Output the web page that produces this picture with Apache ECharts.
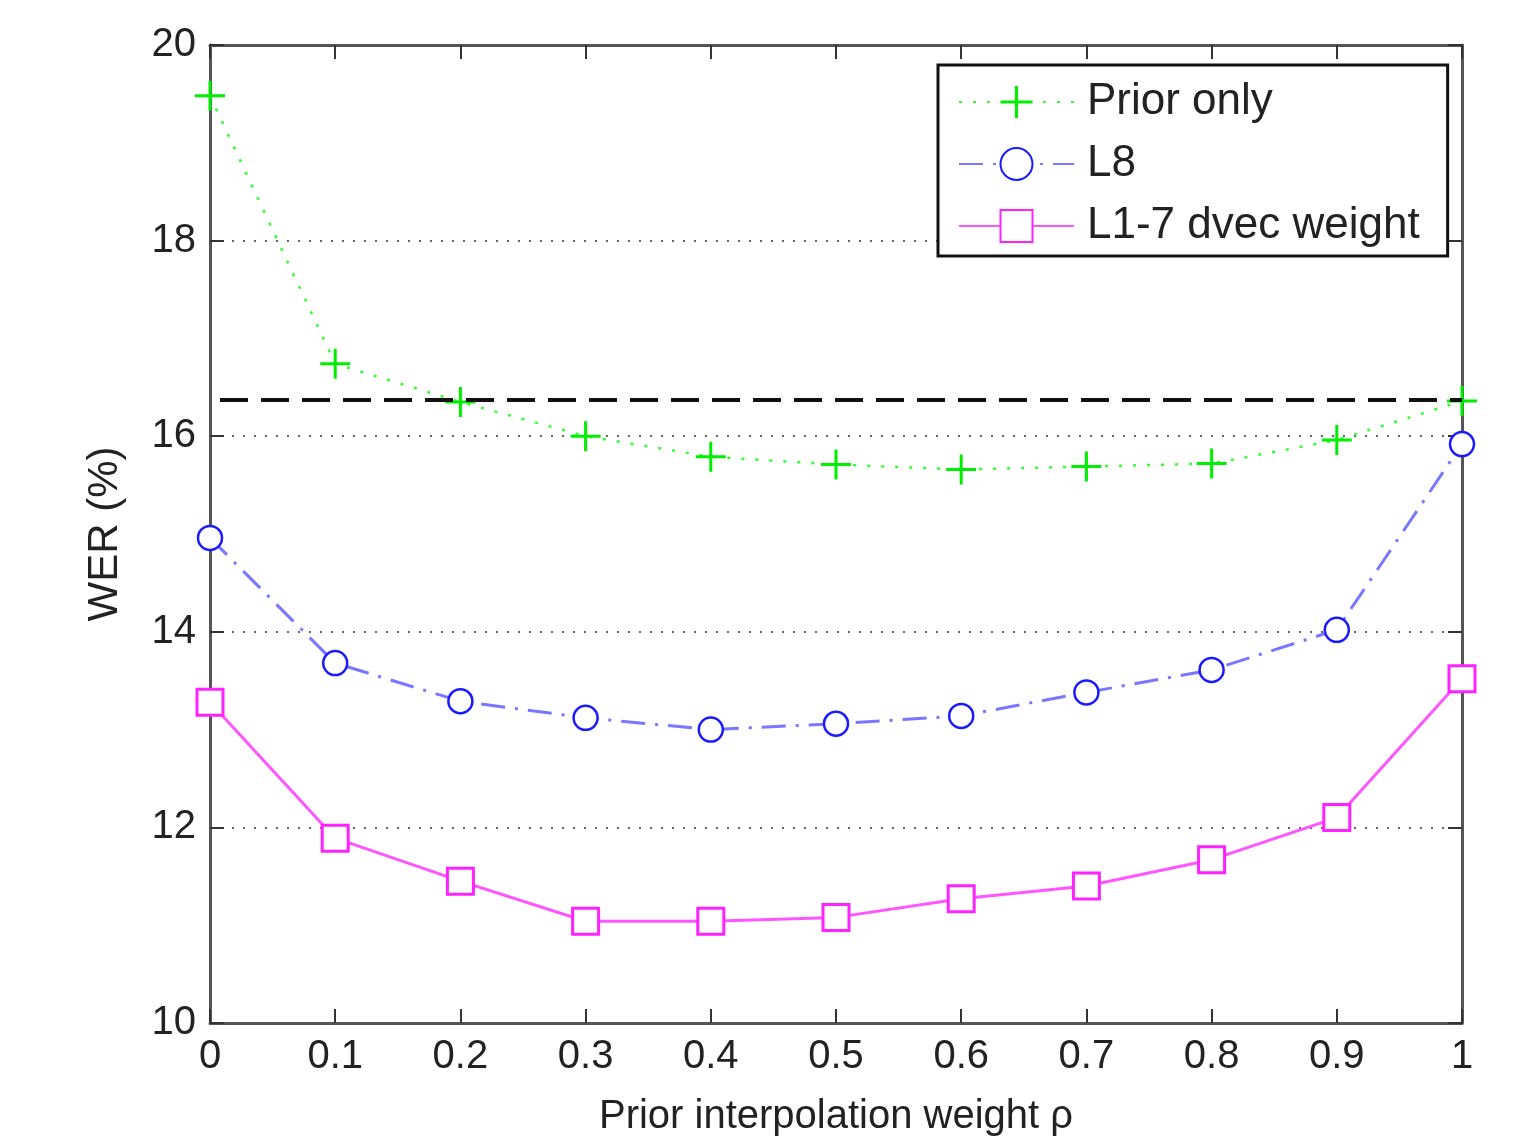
<!DOCTYPE html>
<html>
<head>
<meta charset="utf-8">
<script src="https://cdn.jsdelivr.net/npm/echarts@6/dist/echarts.min.js"></script>
<style>
  html, body { margin: 0; padding: 0; background: #fff; }
  #chart { width: 1518px; height: 1142px; }
</style>
</head>
<body>
<div id="chart"></div>
<script>
// x positions (prior interpolation weight)
const weights = [0, 0.1, 0.2, 0.3, 0.4, 0.5, 0.6, 0.7, 0.8, 0.9, 1]
// WER (%) per series
const priorOnly = [19.48, 16.74, 16.35, 16.0, 15.79, 15.71, 15.66, 15.69, 15.72, 15.96, 16.36]
const l8 = [14.96, 13.68, 13.29, 13.12, 13.0, 13.06, 13.14, 13.38, 13.61, 14.02, 15.92]
const l17 = [13.28, 11.89, 11.45, 11.04, 11.04, 11.08, 11.27, 11.4, 11.67, 12.1, 13.52]
const baseline = 16.37

const font = 'Liberation Sans, Arial, sans-serif'
const pair = (ys) => weights.map((w, i) => [w, ys[i]])

const chart = echarts.init(document.getElementById('chart'))

function tickAxis(extra) {
  return Object.assign({
    axisLine: { show: true, onZero: false, lineStyle: { color: '#555', width: 3 } },
    axisTick: { show: true, inside: true, length: 14, lineStyle: { color: '#333', width: 2 } },
    splitLine: { show: false },
  }, extra)
}

chart.setOption({
  animation: false,
  textStyle: { fontFamily: font },
  grid: { left: 210, right: 56, top: 45, bottom: 108, containLabel: false },
  legend: {
    left: 938,
    top: 65,
    width: 510,
    orient: 'vertical',
    backgroundColor: '#fff',
    borderColor: '#111',
    borderWidth: 3,
    padding: [15, 28, 8, 20],
    itemGap: 18,
    itemWidth: 115,
    itemHeight: 40,
    textStyle: { fontSize: 44, color: '#222', fontFamily: font, padding: [0, 0, 0, 8] },
    data: ['Prior only', 'L8', 'L1-7 dvec weight'],
  },
  xAxis: [
    tickAxis({
      type: 'value', min: 0, max: 1, interval: 0.1, position: 'bottom',
      axisLabel: {
        fontSize: 40, color: '#222', margin: 14,
        formatter: (v) => String(Math.round(v * 10) / 10),
      },
      name: 'Prior interpolation weight ρ',
      nameLocation: 'middle',
      nameGap: 74,
      nameTextStyle: { fontSize: 40, color: '#222' },
    }),
    tickAxis({
      type: 'value', min: 0, max: 1, interval: 0.1, position: 'top',
      axisLabel: { show: false },
    }),
  ],
  yAxis: [
    tickAxis({
      type: 'value', min: 10, max: 20, interval: 2, position: 'left',
      axisLabel: { fontSize: 40, color: '#222', margin: 14 },
      splitLine: { show: true, lineStyle: { color: '#666', type: [2, 9], width: 2 } },
      name: 'WER (%)',
      nameLocation: 'middle',
      nameGap: 84,
      nameTextStyle: { fontSize: 42, color: '#222' },
    }),
    tickAxis({
      type: 'value', min: 10, max: 20, interval: 2, position: 'right',
      axisLabel: { show: false },
    }),
  ],
  series: [
    {
      name: 'Prior only',
      type: 'line',
      data: pair(priorOnly),
      symbol: 'path://M9,0H11V9H20V11H11V20H9V11H0V9H9Z',
      symbolSize: 30,
      itemStyle: { color: '#00ee00' },
      lineStyle: { color: '#33ff33', width: 2.5, type: [3, 11] },
      z: 3,
      markLine: {
        silent: true,
        symbol: 'none',
        label: { show: false },
        lineStyle: { color: '#111', width: 4, type: [28, 13] },
        data: [[{ coord: [0.008, baseline] }, { coord: [1, baseline] }]],
      },
    },
    {
      name: 'L8',
      type: 'line',
      data: pair(l8),
      symbol: 'circle',
      symbolSize: 24,
      itemStyle: { color: '#fff', borderColor: '#1a1aff', borderWidth: 2.5 },
      lineStyle: { color: '#7777ff', width: 3, type: [24, 10, 3, 10] },
      z: 3,
    },
    {
      name: 'L1-7 dvec weight',
      type: 'line',
      data: pair(l17),
      symbol: 'rect',
      symbolSize: 26,
      itemStyle: { color: '#fff', borderColor: '#ff22ff', borderWidth: 3 },
      lineStyle: { color: '#ff55ff', width: 3 },
      z: 3,
    },
  ],
})
</script>
</body>
</html>
